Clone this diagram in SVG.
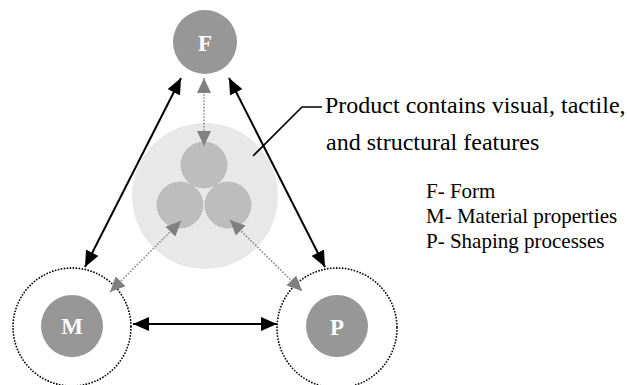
<svg xmlns="http://www.w3.org/2000/svg" width="627" height="385" viewBox="0 0 627 385">
  <style>
    .node { fill: #979797; }
    .ring { fill: none; stroke: #000; stroke-width: 1.8; stroke-dasharray: 0 3; stroke-linecap: round; }
    .lbl { font-family: "Liberation Serif", "Times New Roman", serif; font-weight: bold; font-size: 23px; fill: #fff; text-anchor: middle; }
    .txt { font-family: "Liberation Serif", "Times New Roman", serif; fill: #000; }
    .solid { stroke: #000; stroke-width: 2; fill: none; marker-start: url(#headB); marker-end: url(#headB); }
    .dotted { stroke: #8a8a8a; stroke-width: 1.6; stroke-dasharray: 1.6 1.6; fill: none; marker-start: url(#headG); marker-end: url(#headG); }
    .part { fill: #bdbdbd; stroke: #a8a8a8; stroke-width: 1; stroke-dasharray: 1.5 1.5; }
  </style>
  <defs>
    <marker id="headB" viewBox="0 0 16 14" refX="16" refY="7" markerWidth="16" markerHeight="14" markerUnits="userSpaceOnUse" orient="auto-start-reverse">
      <path d="M0,0 L16,7 L0,14 Z" fill="#000"/>
    </marker>
    <marker id="headG" viewBox="0 0 15 14" refX="15" refY="7" markerWidth="15" markerHeight="14" markerUnits="userSpaceOnUse" orient="auto-start-reverse">
      <path d="M0,0 L15,7 L0,14 Z" fill="#808080"/>
    </marker>
  </defs>

  <!-- product with its three features -->
  <g id="product">
    <circle cx="205" cy="196" r="73" fill="#e8e8e8"/>
    <circle class="part" cx="204" cy="165" r="23"/>
    <circle class="part" cx="180" cy="205" r="23"/>
    <circle class="part" cx="228" cy="205" r="23"/>
  </g>

  <g id="nodeF">
    <circle class="node" cx="205" cy="42" r="32"/>
    <text class="lbl" x="205" y="51">F</text>
  </g>

  <g id="nodeM">
    <circle class="ring" cx="72" cy="327" r="59"/>
    <circle class="node" cx="72" cy="326" r="31"/>
    <text class="lbl" x="72" y="334">M</text>
  </g>

  <g id="nodeP">
    <circle class="ring" cx="337" cy="328" r="60"/>
    <circle class="node" cx="337" cy="326" r="31"/>
    <text class="lbl" x="337" y="335">P</text>
  </g>

  <g id="connectors">
    <line class="solid" x1="181" y1="78" x2="85" y2="267"/>
    <line class="solid" x1="229" y1="78" x2="325" y2="267"/>
    <line class="solid" x1="133" y1="324" x2="277" y2="324"/>
    <line class="dotted" x1="204" y1="78" x2="204" y2="146"/>
    <line class="dotted" x1="181" y1="221" x2="110" y2="292"/>
    <line class="dotted" x1="230" y1="220" x2="302" y2="291"/>
    <polyline points="253,156 302,107 322,107" fill="none" stroke="#000" stroke-width="1.6"/>
  </g>

  <g id="callout">
    <text class="txt" x="325" y="113" font-size="24">Product contains visual, tactile,</text>
    <text class="txt" x="326" y="150" font-size="24">and structural features</text>
  </g>

  <g id="legend">
    <text class="txt" x="426" y="198" font-size="21">F- Form</text>
    <text class="txt" x="426" y="223" font-size="21">M- Material properties</text>
    <text class="txt" x="426" y="248" font-size="21">P- Shaping processes</text>
  </g>
</svg>
